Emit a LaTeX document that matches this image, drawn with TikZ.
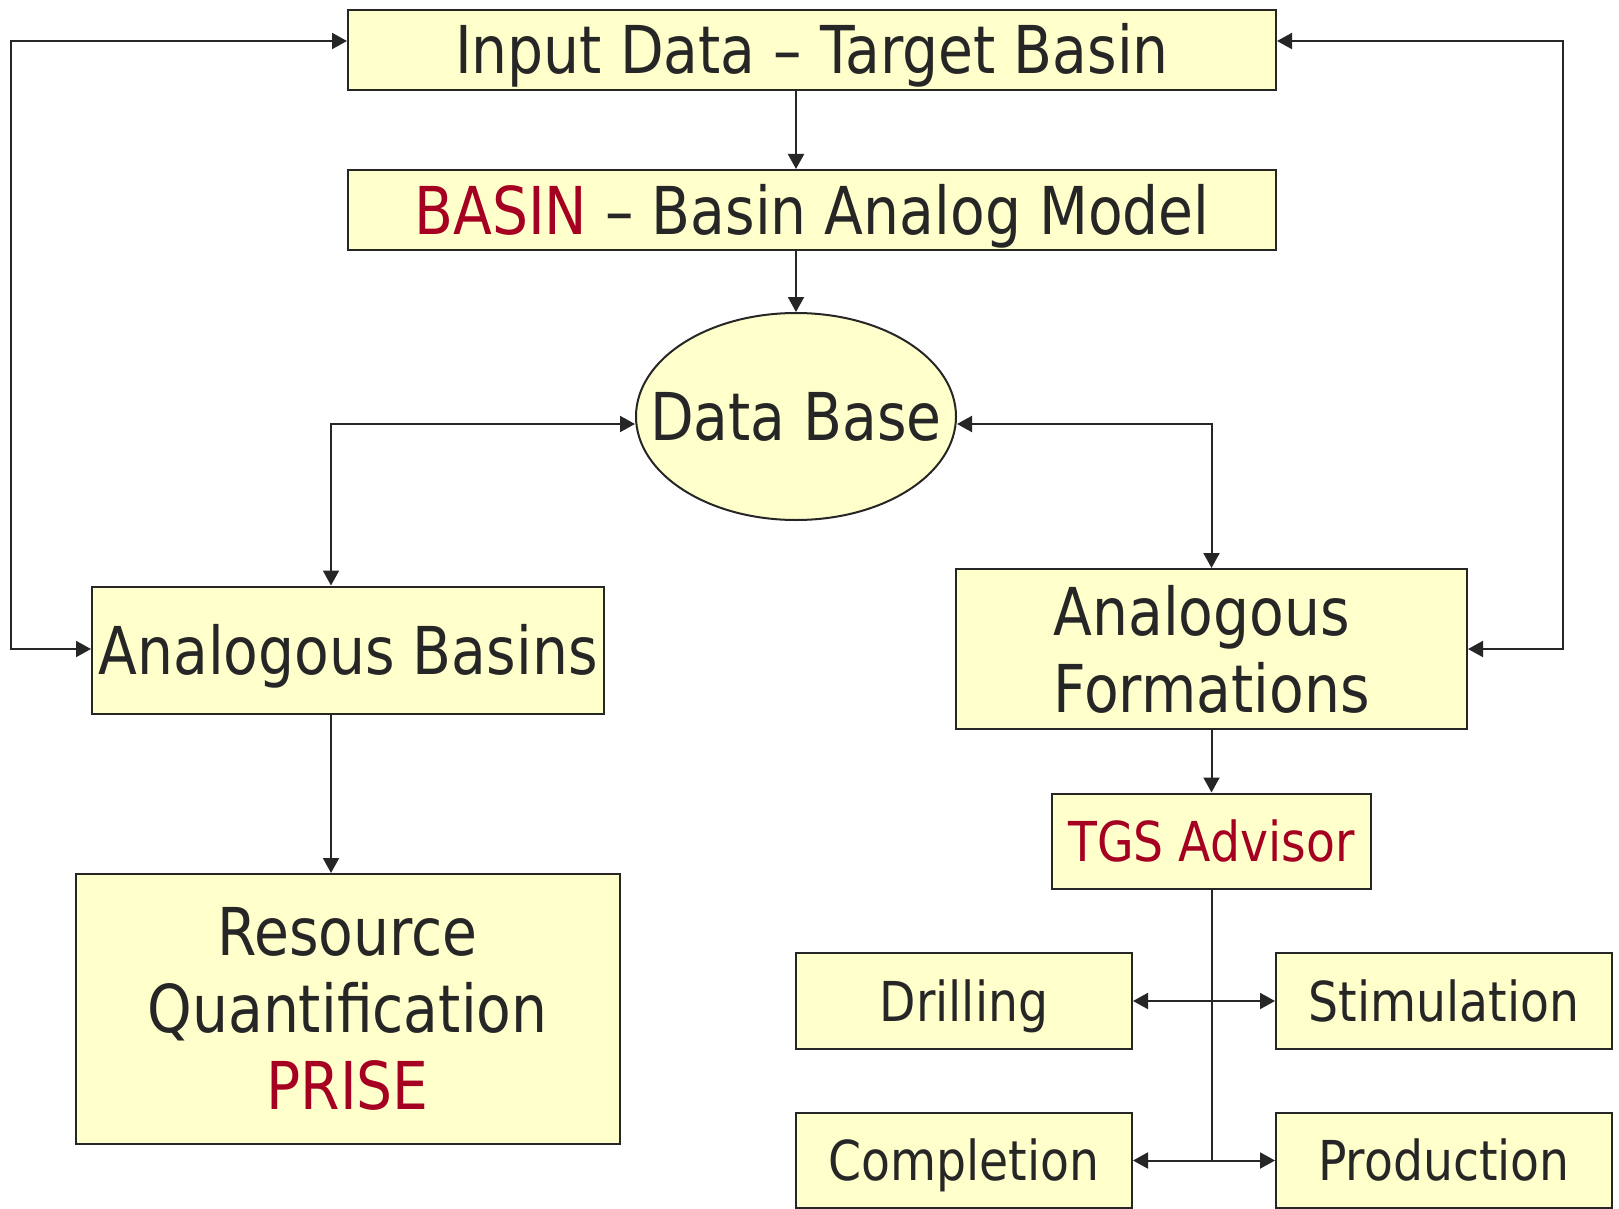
\documentclass[tikz,border=0pt]{standalone}
\usepackage{fontspec}
\setmainfont{DejaVu Sans}[FakeStretch=0.86]
\usetikzlibrary{arrows.meta,shapes.geometric,calc}
\definecolor{boxfill}{HTML}{FFFFCC}
\definecolor{redtxt}{HTML}{A50021}
\definecolor{ink}{HTML}{262626}
\tikzset{
  box/.style={draw=ink, line width=2pt, fill=boxfill, inner sep=0pt, text=ink},
  bigtxt/.style={font=\fontsize{66}{77}\selectfont},
  smalltxt/.style={font=\fontsize{55}{64}\selectfont},
  bigone/.style={bigtxt, text height=48pt, text depth=0pt},
  smallone/.style={smalltxt, text height=40pt, text depth=0pt},
  conn/.style={draw=ink, line width=2pt},
  arr/.style={conn, -{Triangle[length=15pt,width=16pt]}},
  darr/.style={conn, {Triangle[length=15pt,width=16pt]}-{Triangle[length=15pt,width=16pt]}}
}
\begin{document}
\begin{tikzpicture}[x=1pt,y=-1pt]
\useasboundingbox (0,0) rectangle (1619,1209);
% boxes
\node[box,bigone,minimum width=928,minimum height=80] (inp) at (812,50) {Input Data -- Target Basin};
\node[box,bigone,minimum width=928,minimum height=80] (basin) at (812,210) {\textcolor{redtxt}{BASIN} -- Basin Analog Model};
\node[box,ellipse,minimum width=320,minimum height=207,
      label={[bigone,text=ink,anchor=center]center:Data Base}] (db) at (796,416.5) {};
\node[box,bigone,minimum width=512,minimum height=127] (ab) at (348,650) {Analogous Basins};
\node[box,bigtxt,minimum width=511,minimum height=160,align=left] (af) at (1211.5,649) {Analogous\\Formations};
\node[box,smallone,minimum width=319,minimum height=95] (tgs) at (1211.5,841) {\textcolor{redtxt}{TGS Advisor}};
\node[box,bigtxt,minimum width=544,minimum height=270,align=center] (rq) at (347.5,1009) {Resource\\Quantification\\\textcolor{redtxt}{PRISE}};
\node[box,smallone,minimum width=336,minimum height=96] (dr) at (964,1001) {Drilling};
\node[box,smallone,minimum width=336,minimum height=96] (st) at (1444,1001) {Stimulation};
\node[box,smallone,minimum width=336,minimum height=95] (co) at (964,1160.5) {Completion};
\node[box,smallone,minimum width=336,minimum height=95] (pr) at (1444,1160.5) {Production};
% helper coordinates
\coordinate (ly) at (0,41);
\coordinate (cx) at (796,0);
\coordinate (lx) at (331,0);
\coordinate (dby) at (0,424);
\coordinate (lo) at (11,649);
\coordinate (ro) at (1563,649);
% connectors
\draw[darr] (inp.west |- ly) -| (lo) -- (ab.west |- lo);
\draw[darr] (inp.east |- ly) -| (ro) -- (af.east |- ro);
\draw[arr] (inp.south -| cx) -- (basin.north -| cx);
\draw[arr] (basin.south -| cx) -- (db.north);
\draw[darr] (db.west |- dby) -| (ab.north -| lx);
\draw[darr] (db.east |- dby) -| (af.north);
\draw[arr] (ab.south -| lx) -- (rq.north -| lx);
\draw[arr] (af.south) -- (tgs.north);
\draw[conn] (tgs.south) -- (tgs.south |- co.east);
\draw[darr] (dr.east) -- (st.west);
\draw[darr] (co.east) -- (pr.west);
\end{tikzpicture}
\end{document}
